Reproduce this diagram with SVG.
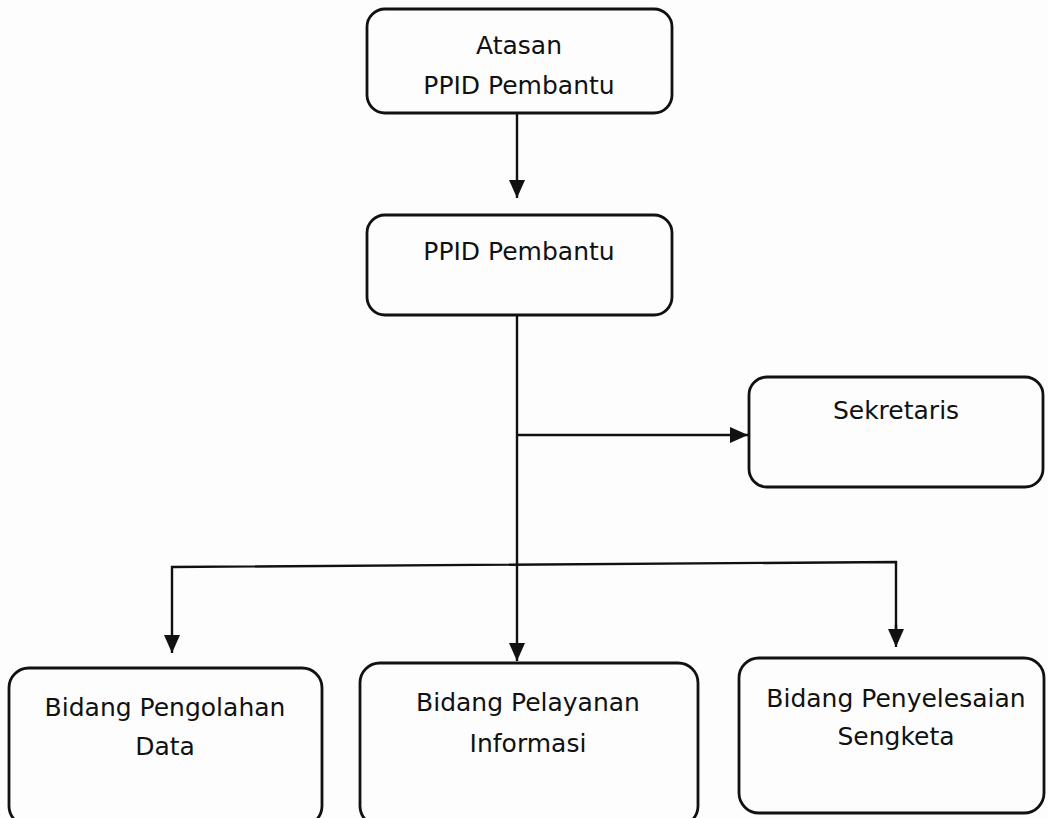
<svg xmlns="http://www.w3.org/2000/svg" width="1048" height="818" viewBox="0 0 1048 818">
<style>
.box{fill:none;stroke:#111;stroke-width:2.8}
.ln{fill:none;stroke:#111;stroke-width:2.4}
text{font-family:"DejaVu Sans","Noto Sans",sans-serif;font-size:25px;fill:#111;text-anchor:middle}
</style>
<defs>
<marker id="ah" viewBox="0 0 18 16" refX="18" refY="8" markerWidth="18" markerHeight="16" markerUnits="userSpaceOnUse" orient="auto">
<path d="M0,0 L18,8 L0,16 Z" fill="#111"/>
</marker>
</defs>
<rect width="1048" height="818" fill="#fdfdfd"/>
<g id="connectors">
<line class="ln" x1="517" y1="113" x2="517" y2="198" marker-end="url(#ah)"/>
<line class="ln" x1="517" y1="315" x2="517" y2="661" marker-end="url(#ah)"/>
<line class="ln" x1="517" y1="435" x2="748" y2="435" marker-end="url(#ah)"/>
<polyline class="ln" points="172,640 172,567 896,562 896,630"/>
<line class="ln" x1="172" y1="635" x2="172" y2="653" marker-end="url(#ah)"/>
<line class="ln" x1="896" y1="625" x2="896" y2="647" marker-end="url(#ah)"/>
</g>
<g id="atasan">
<rect class="box" x="367" y="9" width="305" height="104" rx="18"/>
<text x="519" y="54">Atasan</text>
<text x="519" y="94">PPID Pembantu</text>
</g>
<g id="ppid">
<rect class="box" x="367" y="215" width="305" height="100" rx="18"/>
<text x="519" y="260">PPID Pembantu</text>
</g>
<g id="sekretaris">
<rect class="box" x="749" y="377" width="294" height="110" rx="18"/>
<text x="896" y="419">Sekretaris</text>
</g>
<g id="pengolahan">
<rect class="box" x="9" y="668" width="313" height="158" rx="20"/>
<text x="165" y="716">Bidang Pengolahan</text>
<text x="165" y="755">Data</text>
</g>
<g id="pelayanan">
<rect class="box" x="360" y="663" width="338" height="163" rx="20"/>
<text x="528" y="711">Bidang Pelayanan</text>
<text x="528" y="752">Informasi</text>
</g>
<g id="penyelesaian">
<rect class="box" x="739" y="658" width="305" height="155" rx="20"/>
<text x="896" y="707">Bidang Penyelesaian</text>
<text x="896" y="745">Sengketa</text>
</g>
</svg>
